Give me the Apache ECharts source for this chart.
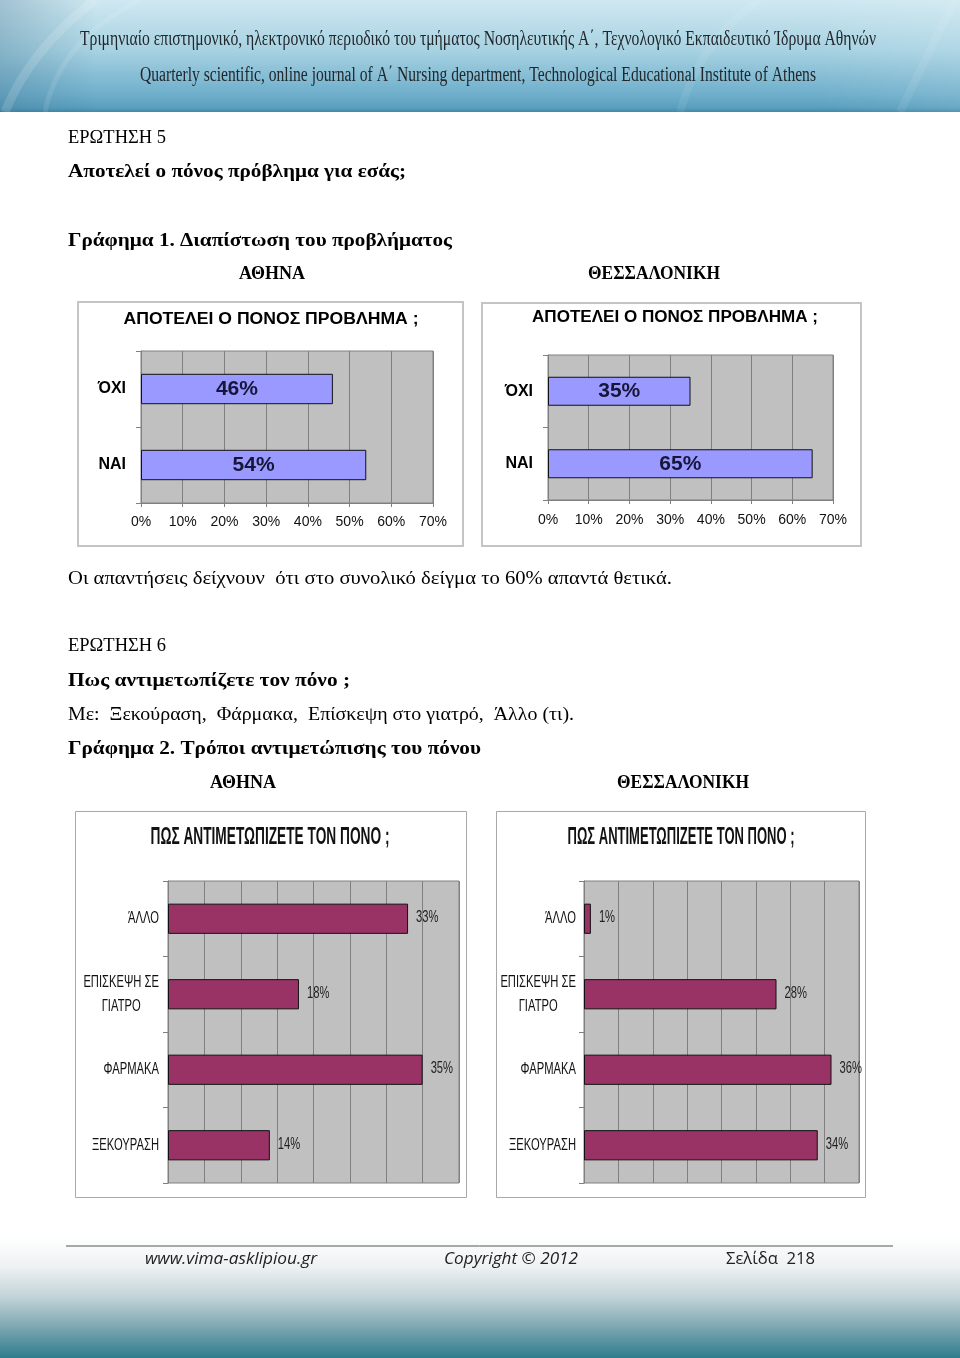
<!DOCTYPE html>
<html><head><meta charset="utf-8">
<script src="https://cdn.jsdelivr.net/npm/echarts@6/dist/echarts.min.js"></script>
<style>html,body{margin:0;padding:0;background:#fff}#main{width:960px;height:1358px}</style>
</head><body><div id="main"></div>
<script>
// ---------- data ----------
const problemCategories = ['ΌΧΙ', 'ΝΑΙ'];
const problemAthens = [46, 54];
const problemThessaloniki = [35, 65];
const problemAxisMax = 70;
const problemAxisStep = 10;

const copingCategories = ['ΆΛΛΟ', 'ΕΠΙΣΚΕΨΗ ΣΕ\nΓΙΑΤΡΟ', 'ΦΑΡΜΑΚΑ', 'ΞΕΚΟΥΡΑΣΗ'];
const copingAthens = [33, 18, 35, 14];
const copingThessaloniki = [1, 28, 36, 34];
const copingAxisMax = 40;
const copingAxisStep = 5;

// ---------- fonts ----------
const mc = document.createElement('canvas').getContext('2d');
const SANS = "'Liberation Sans', Arial, sans-serif";
const SERIF = "'Liberation Serif', 'Times New Roman', serif";
const FOOT = "'Open Sans', 'Lato', sans-serif";
const NARROW_SIZE = 16.5, NARROW_SX = 0.68;   // condensed (Arial-Narrow-like) text

function measure(str, size, family, weight, fst) {
  mc.font = (fst || 'normal') + ' ' + (weight || 'normal') + ' ' + size + 'px ' + family;
  return mc.measureText(str).width;
}
function T(str, x, y, o) {
  const size = o.size, family = o.family, weight = o.weight || 'normal', fst = o.style || 'normal';
  const sx = o.w ? o.w / measure(str, size, family, weight, fst) : 1;
  const al = o.align || 'left';
  return { type: 'text', x: x, y: y, scaleX: sx, silent: true, z: 20,
    style: { text: str, fontSize: size, fontFamily: family, fontWeight: weight, fontStyle: fst,
      fill: o.color || '#000', align: al, verticalAlign: 'middle', textAlign: al, textVerticalAlign: 'middle' } };
}
const G = echarts.graphic;

const elements = [
  // header banner
  { type: 'rect', z: 1, silent: true, shape: { x: 0, y: 0, width: 960, height: 112 },
    style: { fill: new G.LinearGradient(0, 0, 0, 1, [
      { offset: 0, color: '#cfe8f1' }, { offset: 0.45, color: '#a7d2e2' },
      { offset: 0.85, color: '#6eaecb' }, { offset: 0.96, color: '#5a9fbd' }, { offset: 1, color: '#3f8aab' }]) } },
  { type: 'rect', z: 2, silent: true, shape: { x: 0, y: 0, width: 960, height: 112 },
    style: { fill: new G.LinearGradient(0, 0, 1, 0, [
      { offset: 0, color: 'rgba(60,110,140,0.30)' }, { offset: 0.1, color: 'rgba(60,110,140,0)' },
      { offset: 0.85, color: 'rgba(255,255,255,0)' }, { offset: 1, color: 'rgba(255,255,255,0.10)' }]) } },
  { type: 'bezierCurve', z: 3, silent: true, shape: { x1: 5, y1: 112, x2: 95, y2: 0, cpx1: 30, cpy1: 50 },
    style: { stroke: 'rgba(255,255,255,0.14)', lineWidth: 9, fill: null } },
  { type: 'bezierCurve', z: 3, silent: true, shape: { x1: 45, y1: 112, x2: 140, y2: 0, cpx1: 60, cpy1: 40 },
    style: { stroke: 'rgba(255,255,255,0.10)', lineWidth: 5, fill: null } },
  { type: 'bezierCurve', z: 3, silent: true, shape: { x1: 680, y1: 112, x2: 760, y2: 0, cpx1: 700, cpy1: 40 },
    style: { stroke: 'rgba(255,255,255,0.08)', lineWidth: 8, fill: null } },
  { type: 'bezierCurve', z: 3, silent: true, shape: { x1: 900, y1: 112, x2: 955, y2: 0, cpx1: 930, cpy1: 50 },
    style: { stroke: 'rgba(255,255,255,0.08)', lineWidth: 8, fill: null } },
  T('Τριμηνιαίο επιστημονικό, ηλεκτρονικό περιοδικό του τμήματος Νοσηλευτικής Α΄, Τεχνολογικό Εκπαιδευτικό Ίδρυμα Αθηνών',
    80, 39, { size: 21, family: SERIF, w: 796, color: '#22272c' }),
  T('Quarterly scientific, online journal of Α΄ Nursing department, Technological Educational Institute of Athens',
    140, 76, { size: 20, family: SERIF, w: 676, color: '#22272c' }),

  // footer gradient
  { type: 'rect', z: 1, silent: true, shape: { x: 0, y: 1236, width: 960, height: 122 },
    style: { fill: new G.LinearGradient(0, 0, 0, 1, [
      { offset: 0, color: '#ffffff' }, { offset: 0.25, color: '#eef2f3' }, { offset: 0.5, color: '#c2d3d8' },
      { offset: 0.75, color: '#7ca6b1' }, { offset: 1, color: '#2e7d8d' }]) } },
  { type: 'line', z: 5, silent: true, shape: { x1: 66, y1: 1246, x2: 893, y2: 1246 }, style: { stroke: '#555', lineWidth: 1 } },
  T('www.vima-asklipiou.gr', 145, 1259, { size: 16, family: FOOT, style: 'italic', w: 172, color: '#222' }),
  T('Copyright © 2012', 444, 1259, { size: 16, family: FOOT, style: 'italic', w: 134, color: '#222' }),
  T('Σελίδα  218', 726, 1259, { size: 16, family: FOOT, w: 89, color: '#222' }),

  // body text
  T('ΕΡΩΤΗΣΗ 5', 68, 138, { size: 19, family: SERIF, w: 98 }),
  T('Αποτελεί ο πόνος πρόβλημα για εσάς;', 68, 172, { size: 19.5, family: SERIF, weight: 'bold', w: 338 }),
  T('Γράφημα 1. Διαπίστωση του προβλήματος', 68, 241, { size: 19.5, family: SERIF, weight: 'bold', w: 384 }),
  T('ΑΘΗΝΑ', 272, 274, { size: 19.5, family: SERIF, weight: 'bold', w: 66, align: 'center' }),
  T('ΘΕΣΣΑΛΟΝΙΚΗ', 654, 274, { size: 19.5, family: SERIF, weight: 'bold', w: 132, align: 'center' }),
  T('Οι απαντήσεις δείχνουν  ότι στο συνολικό δείγμα το 60% απαντά θετικά.', 68, 579, { size: 19, family: SERIF, w: 604 }),
  T('ΕΡΩΤΗΣΗ 6', 68, 646, { size: 19, family: SERIF, w: 98 }),
  T('Πως αντιμετωπίζετε τον πόνο ;', 68, 681, { size: 19.5, family: SERIF, weight: 'bold', w: 282 }),
  T('Με:  Ξεκούραση,  Φάρμακα,  Επίσκεψη στο γιατρό,  Άλλο (τι).', 68, 715, { size: 19, family: SERIF, w: 506 }),
  T('Γράφημα 2. Τρόποι αντιμετώπισης του πόνου', 68, 749, { size: 19.5, family: SERIF, weight: 'bold', w: 413 }),
  T('ΑΘΗΝΑ', 243, 783, { size: 19.5, family: SERIF, weight: 'bold', w: 66, align: 'center' }),
  T('ΘΕΣΣΑΛΟΝΙΚΗ', 683, 783, { size: 19.5, family: SERIF, weight: 'bold', w: 132, align: 'center' }),

  // chart frames
  { type: 'rect', z: 4, silent: true, shape: { x: 78, y: 302, width: 385, height: 244 }, style: { fill: null, stroke: '#c4c4c4', lineWidth: 2 } },
  { type: 'rect', z: 4, silent: true, shape: { x: 482, y: 303, width: 379, height: 243 }, style: { fill: null, stroke: '#c4c4c4', lineWidth: 2 } },
  { type: 'rect', z: 4, silent: true, shape: { x: 75.5, y: 811.5, width: 391, height: 386 }, style: { fill: null, stroke: '#a8a8a8', lineWidth: 1 } },
  { type: 'rect', z: 4, silent: true, shape: { x: 496.5, y: 811.5, width: 369, height: 386 }, style: { fill: null, stroke: '#a8a8a8', lineWidth: 1 } },

  // chart titles
  T('ΑΠΟΤΕΛΕΙ Ο ΠΟΝΟΣ ΠΡΟΒΛΗΜΑ ;', 271, 320, { size: 16, family: SANS, weight: 'bold', w: 295, align: 'center' }),
  T('ΑΠΟΤΕΛΕΙ Ο ΠΟΝΟΣ ΠΡΟΒΛΗΜΑ ;', 675, 318, { size: 16, family: SANS, weight: 'bold', w: 286, align: 'center' }),
  T('ΠΩΣ ΑΝΤΙΜΕΤΩΠΙΖΕΤΕ ΤΟΝ ΠΟΝΟ ;', 270, 838, { size: 23, family: SANS, weight: 'bold', w: 239, align: 'center', color: '#111' }),
  T('ΠΩΣ ΑΝΤΙΜΕΤΩΠΙΖΕΤΕ ΤΟΝ ΠΟΝΟ ;', 681, 838, { size: 23, family: SANS, weight: 'bold', w: 227, align: 'center', color: '#111' })
];

// ---------- chart ----------
const GRIDLINE = '#808080';
function gridOf(l, t, w, h) {
  return { left: l, top: t, width: w, height: h, show: true, backgroundColor: '#c0c0c0',
    borderColor: GRIDLINE, borderWidth: 1, containLabel: false };
}
function problemX(gi, margin) {
  return { type: 'value', gridIndex: gi, min: 0, max: problemAxisMax, interval: problemAxisStep,
    axisLine: { show: true, lineStyle: { color: GRIDLINE } },
    axisTick: { show: true, length: 4, lineStyle: { color: GRIDLINE } },
    splitLine: { show: true, lineStyle: { color: GRIDLINE, width: 1 } },
    axisLabel: { formatter: '{value}%', fontFamily: SANS, fontSize: 14, color: '#111', margin: margin } };
}
function problemY(gi) {
  return { type: 'category', gridIndex: gi, data: problemCategories, inverse: true,
    axisLine: { show: true, lineStyle: { color: GRIDLINE } },
    axisTick: { show: true, length: 5, lineStyle: { color: GRIDLINE } },
    axisLabel: { fontFamily: SANS, fontWeight: 'bold', fontSize: 16, color: '#000', margin: 15 } };
}
function copingX(gi) {
  return { type: 'value', gridIndex: gi, min: 0, max: copingAxisMax, interval: copingAxisStep,
    axisLine: { show: false }, axisTick: { show: false }, axisLabel: { show: false },
    splitLine: { show: true, lineStyle: { color: GRIDLINE, width: 1 } } };
}
function copingY(gi) {
  return { type: 'category', gridIndex: gi, data: copingCategories, inverse: true,
    axisLine: { show: true, lineStyle: { color: GRIDLINE } },
    axisTick: { show: true, length: 5, lineStyle: { color: GRIDLINE } },
    axisLabel: { show: false } };
}
function problemSeries(gi, data) {
  return { type: 'bar', xAxisIndex: gi, yAxisIndex: gi, data: data, barWidth: '40%',
    itemStyle: { color: '#9999ff', borderColor: '#111', borderWidth: 1 },
    label: { show: true, position: 'inside', formatter: '{c}%', fontFamily: SANS, fontWeight: 'bold',
      fontSize: 21, color: '#16163a' }, silent: true, animation: false };
}
function copingSeries(gi, data) {
  return { type: 'bar', xAxisIndex: gi, yAxisIndex: gi, data: data, barWidth: '40%',
    itemStyle: { color: '#993366', borderColor: '#111', borderWidth: 1 },
    label: { show: false }, silent: true, animation: false };
}
// condensed category labels, placed through the category axis (api.coord)
function copingCategoryText(gi, margin) {
  return { type: 'custom', xAxisIndex: gi, yAxisIndex: gi, clip: false, silent: true, z: 5,
    data: copingCategories.map(function (c, i) { return [0, i]; }),
    renderItem: function (params, api) {
      const p = api.coord([0, api.value(1)]);
      const str = copingCategories[params.dataIndex];
      const maxW = Math.max.apply(null, str.split('\n').map(function (s) { return measure(s, NARROW_SIZE, SANS); }));
      return { type: 'text', x: p[0] - margin - maxW * NARROW_SX / 2, y: p[1], scaleX: NARROW_SX,
        style: { text: str, fontSize: NARROW_SIZE, fontFamily: SANS, fill: '#111', lineHeight: 24,
          align: 'center', verticalAlign: 'middle', textAlign: 'center', textVerticalAlign: 'middle' } };
    } };
}
// condensed value labels to the right of each bar
function copingValueText(gi, values) {
  return { type: 'custom', xAxisIndex: gi, yAxisIndex: gi, clip: false, silent: true, z: 5,
    data: values.map(function (v, i) { return [v, i]; }),
    renderItem: function (params, api) {
      const p = api.coord([api.value(0), api.value(1)]);
      return { type: 'text', x: p[0] + 8, y: p[1] - 1, scaleX: NARROW_SX,
        style: { text: api.value(0) + '%', fontSize: NARROW_SIZE, fontFamily: SANS, fill: '#222',
          align: 'left', verticalAlign: 'middle', textAlign: 'left', textVerticalAlign: 'middle' } };
    } };
}

const chart = echarts.init(document.getElementById('main'), null, { renderer: 'canvas', width: 960, height: 1358 });
chart.setOption({
  animation: false,
  backgroundColor: '#ffffff',
  grid: [gridOf(141, 351, 292, 152), gridOf(548, 355, 285, 145), gridOf(168, 881, 291, 302), gridOf(584, 881, 275, 302)],
  xAxis: [problemX(0, 12), problemX(1, 13), copingX(2), copingX(3)],
  yAxis: [problemY(0), problemY(1), copingY(2), copingY(3)],
  series: [problemSeries(0, problemAthens), problemSeries(1, problemThessaloniki),
           copingSeries(2, copingAthens), copingSeries(3, copingThessaloniki),
           copingCategoryText(2, 9), copingCategoryText(3, 8),
           copingValueText(2, copingAthens), copingValueText(3, copingThessaloniki)],
  graphic: { elements: elements }
});
</script></body></html>
